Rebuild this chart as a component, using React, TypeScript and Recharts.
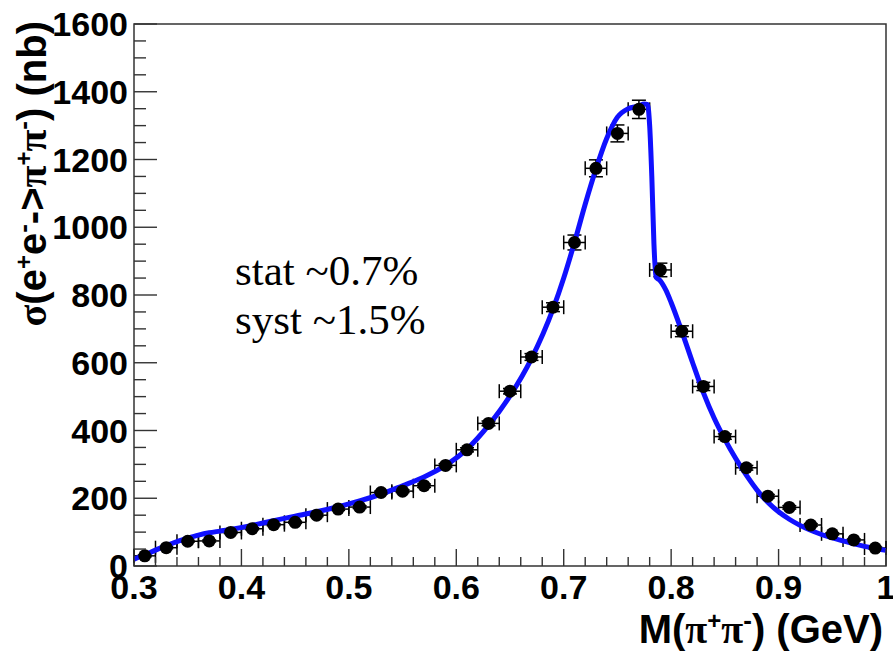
import React from 'react';
import {
  ComposedChart,
  Line,
  Scatter,
  XAxis,
  YAxis,
  ErrorBar,
  ReferenceArea,
  Label,
} from 'recharts';

// ---- measured cross section (data points) ----
const massBins = [
  0.31, 0.33, 0.35, 0.37, 0.39, 0.41, 0.43, 0.45, 0.47, 0.49, 0.51, 0.53,
  0.55, 0.57, 0.59, 0.61, 0.63, 0.65, 0.67, 0.69, 0.71, 0.73, 0.75, 0.77,
  0.79, 0.81, 0.83, 0.85, 0.87, 0.89, 0.91, 0.93, 0.95, 0.97, 0.99,
];
const crossSection = [
  30, 54, 73, 74, 99, 110, 122, 129, 150, 168, 174, 217,
  221, 237, 297, 343, 421, 516, 617, 764, 955, 1174, 1277, 1348,
  874, 693, 530, 382, 290, 206, 173, 121, 95, 77, 53,
];
const crossSectionErr = [
  3, 3, 3, 3, 3, 3, 3, 3, 4, 4, 4, 4,
  4, 5, 5, 6, 7, 8, 10, 13, 22, 25, 25, 27,
  20, 16, 12, 8, 7, 5, 5, 4, 3, 3, 3,
];
const binHalfWidth = [
  0.01, 0.01, 0.01, 0.01, 0.01, 0.01, 0.01, 0.01, 0.01, 0.01, 0.01, 0.01,
  0.01, 0.01, 0.01, 0.01, 0.01, 0.01, 0.01, 0.01, 0.01, 0.01, 0.01, 0.01,
  0.01, 0.01, 0.01, 0.01, 0.01, 0.01, 0.01, 0.01, 0.01, 0.01, 0.01,
];

// ---- fit curve ----
const fitMass = [
  0.3, 0.31, 0.32, 0.33, 0.34, 0.35, 0.36, 0.37, 0.38, 0.39, 0.41, 0.43,
  0.45, 0.47, 0.49, 0.51, 0.53, 0.55, 0.57, 0.59, 0.61, 0.63, 0.65, 0.67,
  0.69, 0.7, 0.71, 0.72, 0.73, 0.74, 0.75, 0.76, 0.77, 0.775, 0.778, 0.78,
  0.782, 0.784, 0.786, 0.789, 0.795, 0.8, 0.81, 0.82, 0.83, 0.84, 0.85, 0.86,
  0.87, 0.88, 0.89, 0.9, 0.91, 0.92, 0.94, 0.96, 0.98, 1.0,
];
const fitSigma = [
  20, 33, 47, 60, 72, 82, 91, 98, 103, 108, 120, 134,
  147, 160, 175, 192, 212, 237, 263, 297, 345, 415, 502, 612,
  758, 850, 955, 1068, 1172, 1262, 1325, 1350, 1358, 1364, 1362, 1300,
  1150, 950, 852, 845, 815, 778, 692, 600, 512, 437, 374, 318,
  268, 224, 188, 160, 138, 120, 93, 74, 58, 46,
];

// ---- axes ----
const xTicks = [
  0.3, 0.32, 0.34, 0.36, 0.38, 0.4, 0.42, 0.44, 0.46, 0.48, 0.5, 0.52,
  0.54, 0.56, 0.58, 0.6, 0.62, 0.64, 0.66, 0.68, 0.7, 0.72, 0.74, 0.76,
  0.78, 0.8, 0.82, 0.84, 0.86, 0.88, 0.9, 0.92, 0.94, 0.96, 0.98, 1.0,
];
const xMajorTicks = [0.3, 0.4, 0.5, 0.6, 0.7, 0.8, 0.9, 1.0];
const xMajorLabels = ['0.3', '0.4', '0.5', '0.6', '0.7', '0.8', '0.9', '1'];
const yTicks = [
  0, 50, 100, 150, 200, 250, 300, 350, 400, 450, 500, 550, 600, 650, 700,
  750, 800, 850, 900, 950, 1000, 1050, 1100, 1150, 1200, 1250, 1300, 1350,
  1400, 1450, 1500, 1550, 1600,
];
const yMajorTicks = [0, 200, 400, 600, 800, 1000, 1200, 1400, 1600];
const yMajorLabels = ['0', '200', '400', '600', '800', '1000', '1200', '1400', '1600'];

const pointData = massBins.map((m, i) => ({
  m,
  sigma: crossSection[i],
  ey: crossSectionErr[i],
  ex: binHalfWidth[i],
}));
const fitData = fitMass.map((m, i) => ({ m, fit: fitSigma[i] }));

const AXIS_COLOR = '#333';
const SANS = '"Liberation Sans", Arial, Helvetica, sans-serif';
const SERIF = '"Liberation Serif", "Times New Roman", serif';

const findMajor = (arr: number[], v: number) =>
  arr.findIndex((a) => Math.abs(a - v) < 1e-6);

const XTick = (props: any) => {
  const { x, y, payload } = props;
  const idx = findMajor(xMajorTicks, payload.value);
  const major = idx >= 0;
  return (
    <g>
      <line
        x1={x}
        x2={x}
        y1={y}
        y2={y - (major ? 17 : 9)}
        stroke={AXIS_COLOR}
        strokeWidth={1.4}
      />
      {major && (
        <text
          x={x}
          y={y + 33}
          textAnchor="middle"
          fontFamily={SANS}
          fontWeight="bold"
          fontSize={34}
          fill="#000"
        >
          {xMajorLabels[idx]}
        </text>
      )}
    </g>
  );
};

const YTick = (props: any) => {
  const { x, y, payload } = props;
  const idx = findMajor(yMajorTicks, payload.value);
  const major = idx >= 0;
  return (
    <g>
      <line
        x1={x}
        x2={x + (major ? 23 : 12)}
        y1={y}
        y2={y}
        stroke={AXIS_COLOR}
        strokeWidth={1.4}
      />
      {major && (
        <text
          x={x - 6}
          y={y + 12}
          textAnchor="end"
          fontFamily={SANS}
          fontWeight="bold"
          fontSize={34}
          fill="#000"
        >
          {yMajorLabels[idx]}
        </text>
      )}
    </g>
  );
};

const Annotations = (props: any) => {
  const vb = props.viewBox || {};
  const left = vb.x ?? 134;
  const top = vb.y ?? 24;
  const width = vb.width ?? 752;
  const height = vb.height ?? 542;
  const right = left + width;
  const bottom = top + height;
  return (
    <g>
      {/* x axis title */}
      <text
        x={right - 3}
        y={bottom + 77}
        textAnchor="end"
        fontFamily={SANS}
        fontWeight="bold"
        fontSize={40}
        fill="#000"
      >
        M(
        <tspan fontFamily={SERIF}>π</tspan>
        <tspan dy={-14} fontSize={24}>+</tspan>
        <tspan dy={14} fontFamily={SERIF}>π</tspan>
        <tspan dy={-14} fontSize={26}>-</tspan>
        <tspan dy={14}>) (GeV)</tspan>
      </text>
      {/* y axis title */}
      <text
        transform={`translate(${left - 88}, ${top - 3}) rotate(-90)`}
        textAnchor="end"
        fontFamily={SANS}
        fontWeight="bold"
        fontSize={40}
        fill="#000"
      >
        <tspan fontFamily={SERIF}>σ</tspan>
        <tspan>(e</tspan>
        <tspan dy={-14} fontSize={24}>+</tspan>
        <tspan dy={14}>e</tspan>
        <tspan dy={-14} fontSize={26}>-</tspan>
        <tspan dy={14}>-&gt;</tspan>
        <tspan fontFamily={SERIF}>π</tspan>
        <tspan dy={-14} fontSize={24}>+</tspan>
        <tspan dy={14} fontFamily={SERIF}>π</tspan>
        <tspan dy={-14} fontSize={26}>-</tspan>
        <tspan dy={14}>) (nb)</tspan>
      </text>
      {/* stat / syst annotation */}
      <text x={left + 101} y={top + 261} fontFamily={SERIF} fontSize={43} fill="#000">
        stat ~0.7%
      </text>
      <text x={left + 101} y={top + 310} fontFamily={SERIF} fontSize={43} fill="#000">
        syst ~1.5%
      </text>
    </g>
  );
};

export default function App() {
  return (
    <div style={{ position: 'absolute', left: 0, top: 0, background: '#fff' }}>
      <ComposedChart
        width={893}
        height={655}
        margin={{ top: 24, right: 7, bottom: 0, left: 0 }}
      >
        <XAxis
          dataKey="m"
          type="number"
          domain={[0.3, 1.0]}
          ticks={xTicks}
          interval={0}
          allowDataOverflow
          axisLine={false}
          tickLine={false}
          tickSize={0}
          tickMargin={0}
          height={89}
          tick={<XTick />}
        />
        <YAxis
          type="number"
          domain={[0, 1600]}
          ticks={yTicks}
          interval={0}
          allowDataOverflow
          axisLine={false}
          tickLine={false}
          tickSize={0}
          tickMargin={0}
          width={134}
          tick={<YTick />}
        />
        <ReferenceArea
          x1={0.3}
          x2={1.0}
          y1={0}
          y2={1600}
          fill="none"
          fillOpacity={0}
          stroke={AXIS_COLOR}
          strokeWidth={1.5}
          strokeOpacity={1}
        >
          <Label content={<Annotations />} />
        </ReferenceArea>
        <Scatter
          data={pointData}
          dataKey="sigma"
          fill="#000"
          isAnimationActive={false}
          shape={(p: any) => <circle cx={p.cx} cy={p.cy} r={6.5} fill="#000" />}
        >
          <ErrorBar dataKey="ex" direction="x" width={7} stroke="#000" strokeWidth={1.5} />
          <ErrorBar dataKey="ey" direction="y" width={7} stroke="#000" strokeWidth={1.5} />
        </Scatter>
        <Line
          data={fitData}
          dataKey="fit"
          type="monotone"
          stroke="#1010ff"
          strokeWidth={5}
          dot={false}
          activeDot={false}
          isAnimationActive={false}
        />
      </ComposedChart>
    </div>
  );
}
